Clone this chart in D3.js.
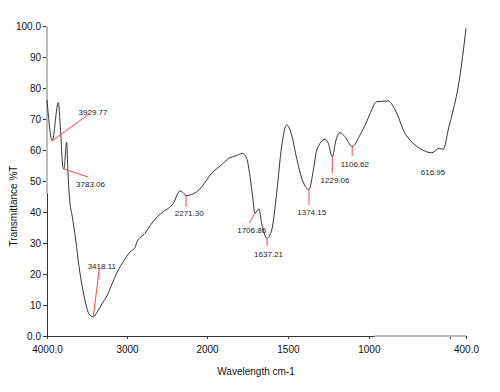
<!DOCTYPE html>
<html>
<head>
<meta charset="utf-8">
<script src="https://cdn.jsdelivr.net/npm/d3@7.9.0/dist/d3.min.js"></script>
<style>
  body { margin: 0; background: #fff; }
  svg { display: block; font-family: "Liberation Sans", Arial, sans-serif; }
</style>
</head>
<body>
<svg id="chart" width="500" height="392"></svg>
<script>
// FTIR spectrum
const wavenumber = [4000, 3934, 3859, 3830, 3800, 3788, 3754, 3738, 3712, 3684, 3641, 3600, 3559, 3516, 3475,
  3421, 3371, 3309, 3246, 3184, 3121, 3046, 2959, 2900, 2875, 2775, 2700, 2620, 2546, 2421, 2338, 2296, 2262,
  2129, 2004, 1981, 1920, 1858, 1817, 1782, 1755, 1734, 1718, 1704, 1679, 1662, 1629, 1600, 1570, 1539, 1508,
  1477, 1446, 1415, 1370, 1343, 1322, 1271, 1251, 1226, 1203, 1179, 1148, 1103, 1055, 1014, 983, 952, 920,
  880, 849, 818, 788, 746, 684, 612, 565, 540, 510, 479, 448, 421, 400];
const transmittance = [76.1, 63.0, 75.3, 66.0, 54.2, 53.9, 62.5, 52.6, 42.9, 38.5, 31.0, 22.4, 15.9, 10.5, 7.1,
  6.2, 7.8, 10.5, 13.2, 17.0, 20.7, 24.0, 27.2, 28.5, 30.4, 33.1, 36.0, 38.5, 40.1, 42.8, 46.8, 46.2, 45.3,
  46.5, 50.3, 51.9, 54.8, 57.5, 58.2, 58.9, 57.3, 51.4, 44.9, 39.6, 41.0, 36.3, 31.5, 34.2, 46.0, 61.1, 68.1,
  64.8, 57.3, 50.9, 47.3, 53.5, 60.0, 63.4, 62.2, 57.8, 63.2, 65.6, 64.3, 61.1, 64.8, 69.1, 72.9, 75.6, 75.7,
  75.8, 74.0, 70.7, 66.5, 63.2, 60.5, 59.1, 60.5, 60.2, 66.5, 72.9, 80.4, 90.1, 99.3];

// peak annotations: label, peak, end of leader line, label anchor (data units)
const peakLabels = ["3929.77", "3783.06", "3418.11", "2271.30", "1706.86", "1637.21", "1374.15", "1229.06", "1106.62", "616.95"];
const peakWn   = [3934, 3788, 3421, 2262, 1704, 1629, 1370, 1226, 1103, null];
const peakT    = [63.0, 53.9, 6.2, 45.3, 39.6, 31.5, 47.3, 57.8, 61.1, null];
const lineEndWn = [3475, 3488, 3346, 2262, 1739, 1629, 1370, 1226, 1103, null];
const lineEndT  = [71.6, 51.3, 21.8, 41.6, 36.5, 29.0, 42.3, 52.6, 58.1, null];
const textWn   = [3425, 3456, 3315, 2222, 1724, 1620, 1353, 1209, 1087, 604];
const textT    = [71.3, 48.1, 21.5, 38.7, 33.3, 25.5, 39.0, 49.4, 54.6, 51.9];

const xTicks = [4000, 3000, 2000, 1500, 1000, 500, 400];
const xTickLabels = { 4000: "4000.0", 3000: "3000", 2000: "2000", 1500: "1500", 1000: "1000", 500: "", 400: "400.0" };
const yTicks = [0, 10, 20, 30, 40, 50, 60, 70, 80, 90, 100];

const margin = { top: 26, right: 34, bottom: 56, left: 47 };
const width = 500 - margin.left - margin.right;
const height = 392 - margin.top - margin.bottom;
const breakFrac = 160 / 419; // scale changes at 2000 cm-1

const svg = d3.select('#chart');
const g = svg.append('g').attr('transform', `translate(${margin.left},${margin.top})`);

const x = d3.scaleLinear().domain([4000, 2000, 400]).range([0, width * breakFrac, width]);
const y = d3.scaleLinear().domain([0, 100]).range([height, 0]);

// axes
const xAxis = g.append('g')
  .attr('transform', `translate(0,${height})`)
  .call(d3.axisBottom(x).tickValues(xTicks).tickSize(3).tickFormat(d => xTickLabels[d]));
const yAxis = g.append('g')
  .call(d3.axisLeft(y).tickValues(yTicks).tickSize(4).tickPadding(2)
    .tickFormat(d => (d === 0 || d === 100) ? d.toFixed(1) : d));

[xAxis, yAxis].forEach(a => {
  a.select('.domain').attr('stroke', '#333');
  a.selectAll('.tick line').attr('stroke', '#333');
  a.selectAll('.tick text').attr('fill', '#111').style('font-size', '10px');
});
xAxis.selectAll('.tick text').attr('dy', '1.05em');

// faint grey overlays on part of the axis lines
g.append('line')
  .attr('x1', 0).attr('x2', 0).attr('y1', y(100)).attr('y2', y(46))
  .attr('stroke', '#bbb').attr('stroke-width', 2);
g.append('line')
  .attr('x1', x(965)).attr('x2', x(400)).attr('y1', height).attr('y2', height)
  .attr('stroke', '#bbb').attr('stroke-width', 2);

// spectrum
const data = wavenumber.map((w, i) => ({ w, t: transmittance[i] }));
const line = d3.line().x(d => x(d.w)).y(d => y(d.t)).curve(d3.curveMonotoneX);
g.append('path')
  .datum(data)
  .attr('fill', 'none')
  .attr('stroke', '#333')
  .attr('stroke-width', 1)
  .attr('d', line);

// annotations
peakLabels.forEach((lab, i) => {
  if (peakWn[i] !== null) {
    g.append('line')
      .attr('x1', x(peakWn[i])).attr('y1', y(peakT[i]))
      .attr('x2', x(lineEndWn[i])).attr('y2', y(lineEndT[i]))
      .attr('stroke', '#f44').attr('stroke-width', 1);
  }
  g.append('text')
    .attr('x', x(textWn[i])).attr('y', y(textT[i]))
    .attr('text-anchor', 'middle')
    .attr('fill', '#222')
    .style('font-size', '8px')
    .text(lab);
});

// axis titles
svg.append('text')
  .attr('transform', `translate(16.5,206) rotate(-90)`)
  .attr('text-anchor', 'middle')
  .attr('fill', '#111')
  .style('font-size', '10px')
  .text('Transmittance %T');
svg.append('text')
  .attr('x', 256).attr('y', 375)
  .attr('text-anchor', 'middle')
  .attr('fill', '#111')
  .style('font-size', '10px')
  .text('Wavelength cm-1');
</script>
</body>
</html>
